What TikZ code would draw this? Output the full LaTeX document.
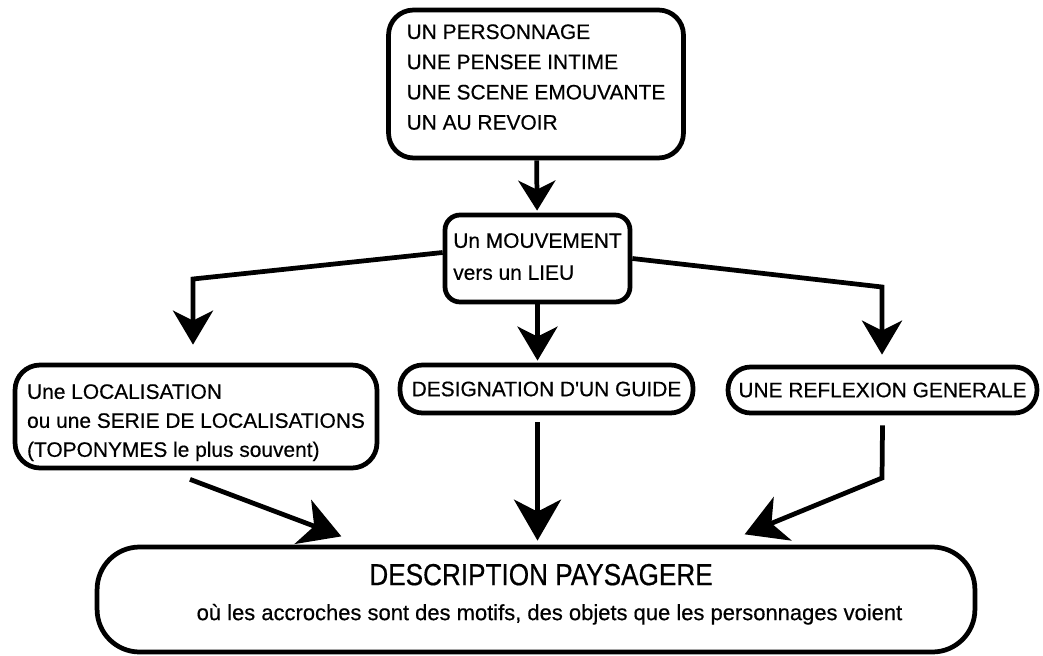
\documentclass[tikz,border=0pt]{standalone}
\usepackage{fontspec}
\setmainfont{Liberation Sans}[Ligatures=TeXOff,FakeBold=0.5]
\newfontfamily\narrowfont{Liberation Sans}[FakeStretch=0.86,FakeBold=0.5]
\usetikzlibrary{arrows.meta,calc,positioning}

\begin{document}
\begin{tikzpicture}[->,>={Stealth[length=0.68cm,width=0.8cm,inset=0.2cm]},shorten >=1pt,line width=2.7pt,x=0.02cm,y=-0.02cm,
		box/.style={draw,rectangle,align=left,inner sep=0pt,font=\fontsize{11.9pt}{17.2pt}\selectfont},
		bighead/.style={>={Stealth[length=0.82cm,width=0.94cm,inset=0.24cm]}},
		smallhead/.style={>={Stealth[length=0.6cm,width=0.74cm,inset=0.18cm]}}]
		\useasboundingbox (0,0) rectangle (1043,655);
		% nodes
		\node[box,rounded corners=0.5cm,minimum width=5.9cm,minimum height=2.96cm] (perso) at (536,84) {UN PERSONNAGE\\UNE PENSEE INTIME\\UNE SCENE EMOUVANTE\\UN AU REVOIR\rule[-0.28cm]{0pt}{0pt}};
		\node[box,rounded corners=0.3cm,minimum width=3.7cm,minimum height=1.74cm,font=\fontsize{11.9pt}{18.2pt}\selectfont] (mouv) at (537.5,258.5) {Un MOUVEMENT\\vers un LIEU\rule[-0.08cm]{0pt}{0pt}};
		\node[box,rounded corners=0.5cm,minimum width=7.24cm,minimum height=2.06cm,font=\fontsize{11.9pt}{16.5pt}\selectfont] (loc) at (196,416.5) {\rule{0pt}{0.54cm}Une LOCALISATION\\ou une SERIE DE LOCALISATIONS\\(TOPONYMES le plus souvent)};
		\node[box,rounded corners=0.45cm,minimum width=5.86cm,minimum height=0.96cm] (guide) at (546.5,389) {DESIGNATION D'UN GUIDE};
		\node[box,rounded corners=0.45cm,minimum width=6.18cm,minimum height=0.92cm] (refl) at (882.5,390) {UNE REFLEXION GENERALE};
		\node[box,align=center,rounded corners=0.85cm,minimum width=17.56cm,minimum height=2.1cm,font=\fontsize{12.5pt}{19.9pt}\selectfont] (desc) at (536,599.5) {\hspace*{0.2cm}{\narrowfont\fontsize{17.3pt}{19.9pt}\selectfont DESCRIPTION PAYSAGERE}\\\hspace*{0.54cm}où les accroches sont des motifs, des objets que les personnages voient\rule[-0.3cm]{0pt}{0pt}};

		\coordinate (bendL) at (193,279);
		\coordinate (bendR) at (882,287);
		\coordinate (bendDR) at (882,478);
		\coordinate (tipL) at (343,537);
		\coordinate (tipR) at (743,535);

		\path (perso) edge[smallhead,shorten >=0.04cm] (mouv);
		\draw[shorten >=0.36cm] ([yshift=0.12cm]mouv.west) -- (bendL) -- (bendL |- loc.north);
		\draw[shorten >=0.2cm] (mouv.east) -- (bendR) -- (bendR |- refl.north);
		\draw[shorten >=0.04cm] (mouv.south) -- (mouv.south |- guide.north);
		\draw[bighead,shorten <=0.14cm,shorten >=0.08cm] (mouv.south |- guide.south) -- (mouv.south |- desc.north);
		\draw[bighead] ([xshift=-0.12cm,yshift=-0.18cm]loc.south) -- (tipL);
		\draw[bighead] ([yshift=-0.2cm]refl.south) -- (bendDR) -- (tipR);
\end{tikzpicture}
\end{document}
